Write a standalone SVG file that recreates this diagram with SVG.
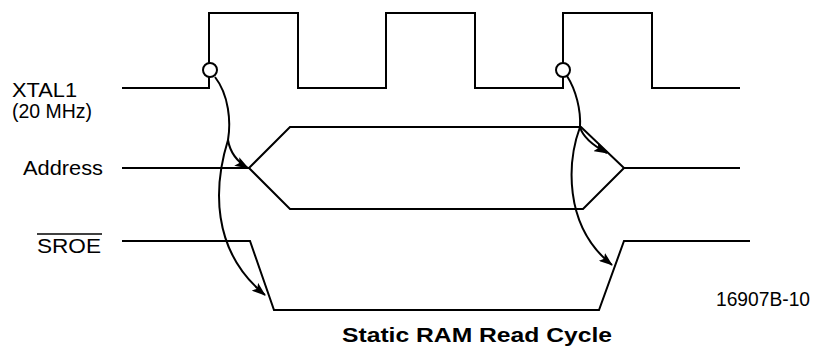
<svg xmlns="http://www.w3.org/2000/svg" width="816" height="347" viewBox="0 0 816 347">
<style>
.w{fill:none;stroke:#000;stroke-width:2;stroke-linejoin:miter}
.c{fill:none;stroke:#000;stroke-width:2}
.t{font-family:"Liberation Sans",Arial,sans-serif;font-size:20.5px;fill:#000}
.b{font-family:"Liberation Sans",Arial,sans-serif;font-size:21px;font-weight:bold;fill:#000}
.dot{fill:#fff;stroke:#000;stroke-width:2}
</style>
<defs>
<marker id="ah" markerWidth="14" markerHeight="10" refX="13" refY="5" orient="auto" markerUnits="userSpaceOnUse">
<path d="M0,0 L14,5 L0,10 L3,5 Z" fill="#000"/>
</marker>
</defs>
<g id="xtal1">
<path class="w" d="M122,88 H209 V13 H298 V88 H386 V13 H475 V88 H563 V13 H652 V88 H740"/>
<text class="t" x="12" y="97" textLength="65" lengthAdjust="spacingAndGlyphs">XTAL1</text>
<text class="t" x="12" y="118" textLength="80" lengthAdjust="spacingAndGlyphs">(20 MHz)</text>
</g>
<g id="address">
<path class="w" d="M122,168 H249 L290,127 H581 L624,168 H740"/>
<text class="t" x="23" y="175" textLength="80" lengthAdjust="spacingAndGlyphs">Address</text>
<path class="w" d="M249,168 L290,209 H583 L624,168"/>
</g>
<g id="sroe">
<path class="w" d="M122,241 H250 L274,310 H599 L624,241 H750"/>
<text class="t" x="37" y="253" textLength="64" lengthAdjust="spacingAndGlyphs">SROE</text>
<line x1="37" y1="234" x2="102" y2="234" stroke="#000" stroke-width="1.5"/>
</g>
<g id="connectors">
<path class="c" d="M215,77 C229,95 231,122 228,140 C230,152 236,161 248,168" marker-end="url(#ah)"/>
<path class="c" d="M228,140 C214,185 210,250 265,295" marker-end="url(#ah)"/>
<path class="c" d="M567,76 C576,90 581,110 580,127 C583,138 594,146 607,153" marker-end="url(#ah)"/>
<path class="c" d="M580,127 C568,160 562,225 612,265" marker-end="url(#ah)"/>
</g>
<g id="clock-edges">
<circle class="dot" cx="210" cy="70" r="7"/>
<circle class="dot" cx="563" cy="70" r="7"/>
</g>
<text class="t" x="716" y="306" textLength="94" lengthAdjust="spacingAndGlyphs">16907B-10</text>
<text class="b" x="342" y="342" textLength="270" lengthAdjust="spacingAndGlyphs">Static RAM Read Cycle</text>
</svg>
